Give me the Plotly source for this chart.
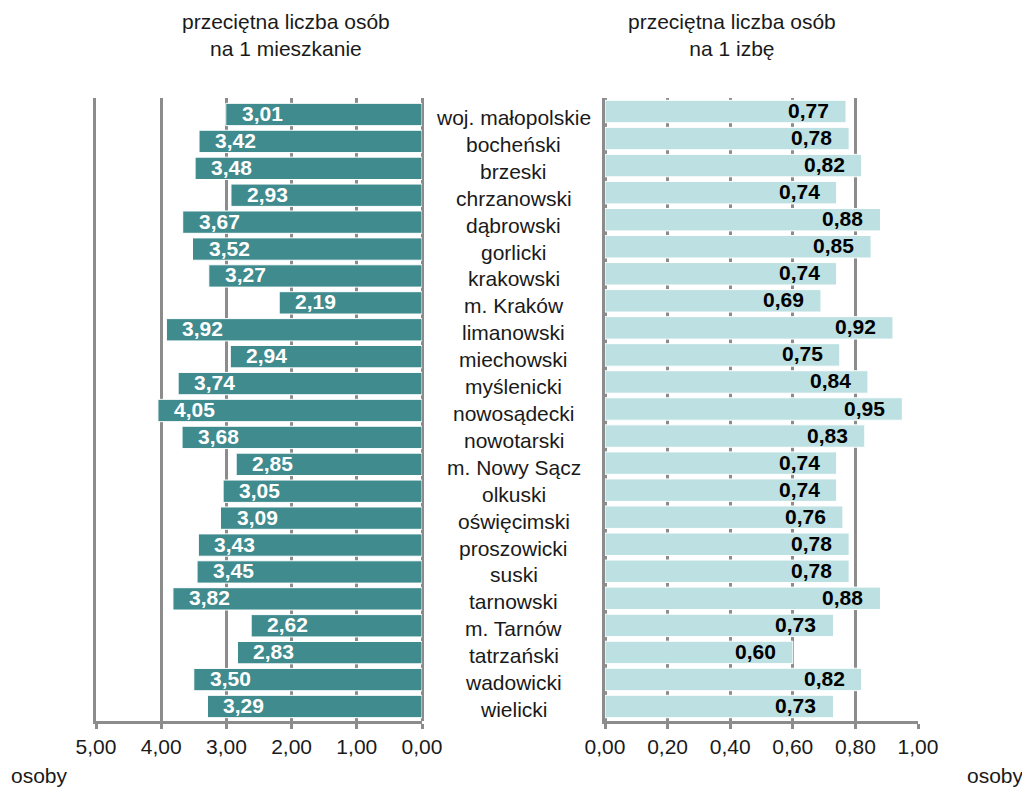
import plotly.graph_objects as go

categories = ["woj. małopolskie", "bocheński", "brzeski", "chrzanowski", "dąbrowski",
              "gorlicki", "krakowski", "m. Kraków", "limanowski", "miechowski",
              "myślenicki", "nowosądecki", "nowotarski", "m. Nowy Sącz", "olkuski",
              "oświęcimski", "proszowicki", "suski", "tarnowski", "m. Tarnów",
              "tatrzański", "wadowicki", "wielicki"]
persons_per_dwelling = [3.01, 3.42, 3.48, 2.93, 3.67, 3.52, 3.27, 2.19, 3.92, 2.94,
                        3.74, 4.05, 3.68, 2.85, 3.05, 3.09, 3.43, 3.45, 3.82, 2.62,
                        2.83, 3.50, 3.29]
persons_per_room = [0.77, 0.78, 0.82, 0.74, 0.88, 0.85, 0.74, 0.69, 0.92, 0.75,
                    0.84, 0.95, 0.83, 0.74, 0.74, 0.76, 0.78, 0.78, 0.88, 0.73,
                    0.60, 0.82, 0.73]
left_ticks = [5, 4, 3, 2, 1, 0]
right_ticks = [0, 0.2, 0.4, 0.6, 0.8, 1.0]
title_left = "przeciętna liczba osób<br>na 1 mieszkanie"
title_right = "przeciętna liczba osób<br>na 1 izbę"
unit = "osoby"

# page body has an 8px margin; size the figure so it fills the 1030x787 window
OFF = 8
W, H = 1030 - OFF, 787 - OFF
FONT = "Liberation Sans, Arial, sans-serif"
GRID = "#8c8c8c"
DARK = "#3f8b8e"
LIGHT = "#bde0e2"
TXT = "#1a1a1a"


def px(x):
    return (x - OFF) / W


def py(y):
    return (H - (y - OFF)) / H


def fmt(v):
    return f"{v:.2f}".replace(".", ",")


fig = go.Figure()
fig.add_trace(go.Bar(y=categories, x=persons_per_dwelling, orientation="h",
                     xaxis="x", yaxis="y", marker=dict(color=DARK, line=dict(color="white", width=1)),
                     hoverinfo="skip", showlegend=False))
fig.add_trace(go.Bar(y=categories, x=persons_per_room, orientation="h",
                     xaxis="x2", yaxis="y2", marker=dict(color=LIGHT, line=dict(color="white", width=1)),
                     hoverinfo="skip", showlegend=False))

ydom = [py(721), py(98)]

axis_common = dict(showgrid=True, gridcolor=GRID, gridwidth=3,
                   showline=True, linecolor=GRID, linewidth=3,
                   ticks="outside", ticklen=5, tickwidth=3, tickcolor=GRID,
                   tickfont=dict(family=FONT, size=21, color=TXT),
                   zeroline=True, zerolinecolor=GRID, zerolinewidth=3,
                   fixedrange=True, ticklabelstandoff=0, automargin=False)

fig.update_layout(
    width=W, height=H,
    template="none",
    margin=dict(l=0, r=0, t=0, b=0, pad=0, autoexpand=False),
    plot_bgcolor="white", paper_bgcolor="white",
    showlegend=False,
    bargap=0.17,
    xaxis=dict(domain=[px(96), px(422)], range=[5, 0], anchor="y",
               tickvals=left_ticks, ticktext=[fmt(v) for v in left_ticks], **axis_common),
    xaxis2=dict(domain=[px(605), px(918)], range=[0, 1.0], anchor="y2",
                tickvals=right_ticks, ticktext=[fmt(v) for v in right_ticks], **axis_common),
    yaxis=dict(domain=ydom, anchor="x", autorange="reversed", showticklabels=False, automargin=False,
               showgrid=False, showline=True, linecolor=GRID, linewidth=3, ticks="", fixedrange=True,
               zeroline=False),
    yaxis2=dict(domain=ydom, anchor="x2", autorange="reversed", showticklabels=False, automargin=False,
                showgrid=False, showline=True, linecolor=GRID, linewidth=3, ticks="", fixedrange=True,
                zeroline=False),
)

annotations = []
for c, v in zip(categories, persons_per_dwelling):
    annotations.append(dict(xref="x", yref="y", x=v, y=c, text=f"<b>{fmt(v)}</b>",
                            xanchor="left", yanchor="middle", xshift=14, yshift=1, showarrow=False,
                            font=dict(family=FONT, size=21, color="white")))
for c, v in zip(categories, persons_per_room):
    annotations.append(dict(xref="x2", yref="y2", x=v, y=c, text=f"<b>{fmt(v)}</b>",
                            xanchor="right", yanchor="middle", xshift=-15, yshift=1, showarrow=False,
                            font=dict(family=FONT, size=21, color="black")))
for c in categories:
    annotations.append(dict(xref="paper", yref="y", x=px(513.5), y=c, text=c,
                            xanchor="center", yanchor="middle", yshift=-3, showarrow=False,
                            font=dict(family=FONT, size=21, color=TXT)))
annotations.append(dict(xref="paper", yref="paper", x=px(286), y=py(35), text=title_left,
                        xanchor="center", yanchor="middle", showarrow=False,
                        font=dict(family=FONT, size=21, color=TXT)))
annotations.append(dict(xref="paper", yref="paper", x=px(732), y=py(35), text=title_right,
                        xanchor="center", yanchor="middle", showarrow=False,
                        font=dict(family=FONT, size=21, color=TXT)))
annotations.append(dict(xref="paper", yref="paper", x=px(9), y=py(775), text=unit,
                        xanchor="left", yanchor="middle", showarrow=False,
                        font=dict(family=FONT, size=21, color=TXT)))
annotations.append(dict(xref="paper", yref="paper", x=px(1026), y=py(775), text=unit,
                        xanchor="right", yanchor="middle", showarrow=False,
                        font=dict(family=FONT, size=21, color=TXT)))
fig.update_layout(annotations=annotations)

fig.write_html("out.html")
